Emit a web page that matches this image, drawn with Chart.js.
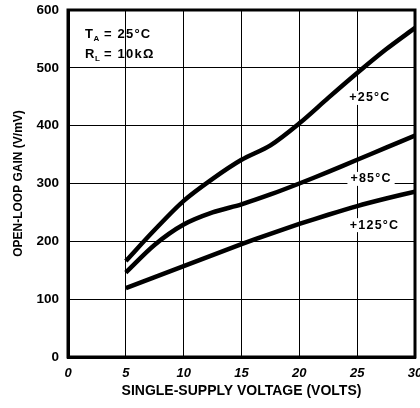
<!DOCTYPE html>
<html>
<head>
<meta charset="utf-8">
<script src="https://cdn.jsdelivr.net/npm/chart.js@4.4.1/dist/chart.umd.min.js"></script>
<style>
  html, body { margin: 0; padding: 0; background: #fff; }
  canvas { display: block; }
</style>
</head>
<body>
<canvas id="gainChart" width="420" height="408"></canvas>
<script>
// supply voltage (V) and open-loop gain (V/mV) per temperature
const voltage = [5, 7.5, 10, 12.5, 15, 17.5, 20, 22.5, 25, 27.5, 30];
const gain25 = [166, 220, 270, 308, 341, 366, 404, 448, 491, 532, 569];
const gain85 = [146, 194, 229, 250, 264, 281, 300, 320, 341, 362, 383];
const gain125 = [119, 138, 157, 176, 195, 213, 230, 246, 261, 274, 286];
const seriesNames = ["+25°C", "+85°C", "+125°C"];
const xTicks = [0, 5, 10, 15, 20, 25, 30];
const yTicks = [0, 100, 200, 300, 400, 500, 600];

const FONT = "'Liberation Sans', Arial, Helvetica, sans-serif";

function pts(vals) {
    return voltage.map((v, i) => ({ x: v, y: vals[i] }));
}

// label anchors in data units
const labelPos = [[26.1, 448], [26.2, 308], [26.5, 228]];

const overlay = {
    id: 'overlay',
    afterDraw(chart) {
        const ctx = chart.ctx;
        const a = chart.chartArea;
        const xs = chart.scales.x, ys = chart.scales.y;
        ctx.save();
        // frame
        ctx.strokeStyle = '#000';
        ctx.lineWidth = 3;
        ctx.strokeRect(a.left, a.top, a.right - a.left, a.bottom - a.top);

        ctx.fillStyle = '#000';
        ctx.letterSpacing = '1.2px';
        ctx.font = "bold 12.5px " + FONT;
        ctx.textBaseline = 'middle';
        ctx.textAlign = 'center';
        seriesNames.forEach((name, i) => {
            const px = xs.getPixelForValue(labelPos[i][0]);
            const py = ys.getPixelForValue(labelPos[i][1]);
            const w = ctx.measureText(name).width;
            ctx.fillStyle = '#fff';
            ctx.fillRect(px - w / 2 - 3, py - 7, w + 6, 14);
            ctx.fillStyle = '#000';
            ctx.fillText(name, px, py);
        });

        // conditions box
        ctx.textAlign = 'left';
        ctx.textBaseline = 'alphabetic';
        let x0 = a.left + 17;
        ctx.font = "bold 13px " + FONT;
        ctx.fillText("T", x0, 38);
        ctx.font = "bold 8px " + FONT;
        ctx.fillText("A", x0 + 8.5, 41);
        ctx.font = "bold 13px " + FONT;
        ctx.fillText("= 25°C", x0 + 19, 38);

        ctx.fillText("R", x0, 58);
        ctx.font = "bold 8px " + FONT;
        ctx.fillText("L", x0 + 10, 61);
        ctx.font = "bold 13px " + FONT;
        ctx.fillText("= 10kΩ", x0 + 19, 58);
        ctx.restore();
    }
};

const lineStyle = {
    borderColor: '#000',
    borderWidth: 4.5,
    pointRadius: 0,
    fill: false,
    tension: 0.3
};

new Chart(document.getElementById('gainChart').getContext('2d'), {
    type: 'line',
    data: {
        datasets: [
            { label: seriesNames[0], data: pts(gain25), ...lineStyle },
            { label: seriesNames[1], data: pts(gain85), ...lineStyle },
            { label: seriesNames[2], data: pts(gain125), ...lineStyle }
        ]
    },
    options: {
        responsive: false,
        animation: false,
        layout: { padding: { left: 0, top: 10, right: 5, bottom: 0 } },
        plugins: {
            legend: { display: false },
            tooltip: { enabled: false }
        },
        scales: {
            x: {
                type: 'linear',
                min: 0, max: 30,
                afterBuildTicks: s => { s.ticks = xTicks.map(v => ({ value: v })); },
                afterFit: s => { s.height = 51; s.paddingLeft = 0; s.paddingRight = 0; },
                grid: { color: '#000', lineWidth: 1, drawTicks: false },
                border: { color: '#000', width: 3 },
                ticks: {
                    padding: 9,
                    color: '#000',
                    maxRotation: 0,
                    font: { family: FONT, size: 13, weight: 'bold', style: 'italic' }
                },
                title: {
                    display: true,
                    text: 'SINGLE-SUPPLY VOLTAGE (VOLTS)',
                    color: '#000',
                    padding: { top: 0, bottom: 8 },
                    font: { family: FONT, size: 14, weight: 'bold' }
                }
            },
            y: {
                min: 0, max: 600,
                afterBuildTicks: s => { s.ticks = yTicks.map(v => ({ value: v })); },
                afterFit: s => { s.width = 68; s.paddingTop = 0; s.paddingBottom = 0; },
                grid: { color: '#000', lineWidth: 1, drawTicks: false },
                border: { color: '#000', width: 3 },
                ticks: {
                    padding: 9,
                    color: '#000',
                    font: { family: FONT, size: 13.5, weight: 'bold' }
                },
                title: {
                    display: true,
                    text: 'OPEN-LOOP GAIN (V/mV)',
                    color: '#000',
                    padding: { top: 11, bottom: 0 },
                    font: { family: FONT, size: 12, weight: 'bold' }
                }
            }
        }
    },
    plugins: [overlay]
});
</script>
</body>
</html>
